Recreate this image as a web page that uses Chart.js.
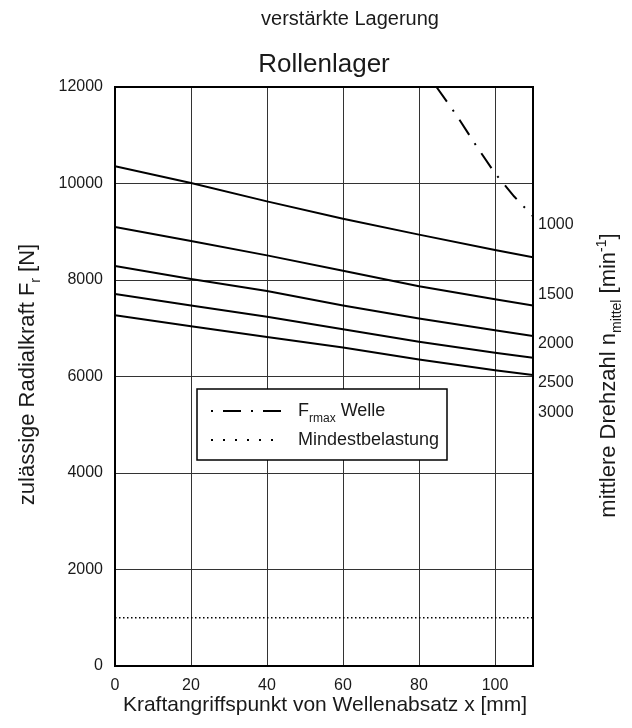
<!DOCTYPE html>
<html>
<head>
<meta charset="utf-8">
<script src="https://cdn.jsdelivr.net/npm/chart.js@4.4.1/dist/chart.umd.min.js"></script>
<style>
  html, body { margin: 0; padding: 0; background: #fff; }
  #wrap { width: 632px; height: 728px; }
</style>
</head>
<body>
<div id="wrap"><canvas id="cnv" width="632" height="728"></canvas></div>
<script>
// force over x for each speed
const xPos = [0, 20, 40, 60, 80, 100, 110];
const force1000 = [10360, 10010, 9630, 9270, 8940, 8620, 8470];
const force1500 = [9100, 8810, 8510, 8190, 7870, 7600, 7470];
const force2000 = [8290, 8020, 7770, 7470, 7200, 6960, 6840];
const force2500 = [7710, 7470, 7240, 6980, 6720, 6490, 6390];
const force3000 = [7270, 7040, 6820, 6600, 6350, 6130, 6030];

// shaft limit
const fmaxX = [84.6, 90, 95, 100, 105, 110];
const fmaxY = [12000, 11400, 10790, 10210, 9735, 9320];

// minimum load
const minLoadX = [0, 110];
const minLoadY = [1000, 1000];

// speed labels on the right side and the force value they sit at
const rpmLabels = ['1000', '1500', '2000', '2500', '3000'];
const rpmLabelAt = [9140, 7690, 6690, 5880, 5260];

const xTicksStep = 20;
const yTicksStep = 2000;

const fontFamily = '"Liberation Sans", Arial, Helvetica, sans-serif';
const textColor = '#1a1a1a';

function zip(xs, ys) {
  return xs.map((x, i) => ({ x: x, y: ys[i] }));
}

function lineSet(label, xs, ys, dash, width) {
  return {
    label: label,
    data: zip(xs, ys),
    borderColor: '#000',
    borderWidth: width || 2,
    borderDash: dash || [],
    pointRadius: 0,
    fill: false,
    tension: 0
  };
}

function richWidth(ctx, parts) {
  let w = 0;
  parts.forEach(p => {
    ctx.font = p.size + 'px ' + fontFamily;
    w += ctx.measureText(p.text).width;
  });
  return w;
}

// draws text made of pieces (sub/superscripts), centred on x unless align left
function drawRich(ctx, parts, x, y, angle, align) {
  ctx.save();
  ctx.translate(x, y);
  ctx.rotate(angle || 0);
  const total = richWidth(ctx, parts);
  let cx = align === 'left' ? 0 : -total / 2;
  ctx.textAlign = 'left';
  ctx.textBaseline = 'alphabetic';
  ctx.fillStyle = textColor;
  parts.forEach(p => {
    ctx.font = p.size + 'px ' + fontFamily;
    ctx.fillText(p.text, cx, p.dy || 0);
    cx += ctx.measureText(p.text).width;
  });
  ctx.restore();
}

const legendItems = [
  { dash: [2, 10, 18, 10], parts: [{ text: 'F', size: 18 }, { text: 'rmax', size: 12, dy: 6 }, { text: ' Welle', size: 18 }] },
  { dash: [2, 10], parts: [{ text: 'Mindestbelastung', size: 18 }] }
];

const decorPlugin = {
  id: 'decor',
  afterDatasetsDraw(chart) {
    const ctx = chart.ctx;
    const a = chart.chartArea;
    ctx.save();
    ctx.strokeStyle = '#000';
    ctx.lineWidth = 2;
    ctx.strokeRect(a.left, a.top, a.right - a.left, a.bottom - a.top);
    ctx.restore();
  },
  afterDraw(chart) {
    const ctx = chart.ctx;
    const a = chart.chartArea;
    const midX = (a.left + a.right) / 2;
    const midY = (a.top + a.bottom) / 2;

    drawRich(ctx, [{ text: 'verstärkte Lagerung', size: 20 }], 350, 25);
    drawRich(ctx, [{ text: 'Rollenlager', size: 26 }], midX, 72);
    drawRich(ctx, [{ text: 'Kraftangriffspunkt von Wellenabsatz x [mm]', size: 21 }], midX + 1, 711);
    drawRich(ctx, [
      { text: 'zulässige Radialkraft F', size: 22 },
      { text: 'r', size: 14, dy: 6 },
      { text: ' [N]', size: 22 }
    ], 34, midY - 2, -Math.PI / 2);
    drawRich(ctx, [
      { text: 'mittlere Drehzahl n', size: 22 },
      { text: 'mittel', size: 14, dy: 6 },
      { text: ' [min', size: 22 },
      { text: '-1', size: 14, dy: -9 },
      { text: ']', size: 22 }
    ], 615, midY - 1, -Math.PI / 2);

    // legend box
    const bx = 197, by = 389, bw = 250, bh = 71;
    ctx.save();
    ctx.fillStyle = '#fff';
    ctx.fillRect(bx, by, bw, bh);
    ctx.strokeStyle = '#000';
    ctx.lineWidth = 1.5;
    ctx.strokeRect(bx, by, bw, bh);
    ctx.lineWidth = 2;
    legendItems.forEach((item, i) => {
      const ly = by + 22 + i * 29;
      ctx.setLineDash(item.dash);
      ctx.beginPath();
      ctx.moveTo(bx + 14, ly);
      ctx.lineTo(bx + 84, ly);
      ctx.stroke();
      drawRich(ctx, item.parts, bx + 101, ly + 5, 0, 'left');
    });
    ctx.restore();
  }
};

const tickFont = { family: fontFamily, size: 16 };

const ctx = document.getElementById('cnv').getContext('2d');
const chart = new Chart(ctx, {
  type: 'line',
  data: {
    datasets: [
      lineSet('1000', xPos, force1000),
      lineSet('1500', xPos, force1500),
      lineSet('2000', xPos, force2000),
      lineSet('2500', xPos, force2500),
      lineSet('3000', xPos, force3000),
      lineSet('Frmax Welle', fmaxX, fmaxY, [18, 10, 2, 10]),
      lineSet('Mindestbelastung', minLoadX, minLoadY, [1.5, 2.5], 1.5)
    ]
  },
  options: {
    responsive: false,
    animation: false,
    devicePixelRatio: 1,
    layout: { padding: { top: 87, left: 0, right: 0, bottom: 0 } },
    plugins: {
      legend: { display: false },
      title: { display: false },
      tooltip: { enabled: false }
    },
    scales: {
      x: {
        type: 'linear',
        min: 0,
        max: 110,
        ticks: { stepSize: xTicksStep, includeBounds: false, padding: 10, font: tickFont, color: textColor,
          callback: v => String(v) },
        grid: { color: '#333', lineWidth: 1, drawTicks: false },
        border: { display: false },
        afterFit: s => { s.height = 62; }
      },
      y: {
        type: 'linear',
        min: 0,
        max: 12000,
        ticks: { stepSize: yTicksStep, padding: 12, font: tickFont, color: textColor,
          callback: v => String(v) },
        grid: { color: '#333', lineWidth: 1, drawTicks: false },
        border: { display: false },
        afterFit: s => { s.width = 115; }
      },
      y2: {
        type: 'linear',
        position: 'right',
        min: 0,
        max: 12000,
        afterBuildTicks: s => { s.ticks = rpmLabelAt.map(v => ({ value: v })); },
        ticks: {
          autoSkip: false,
          padding: 5,
          font: tickFont,
          color: textColor,
          callback: (v, i) => rpmLabels[i]
        },
        grid: { display: false, drawTicks: false },
        border: { display: false },
        afterFit: s => { s.width = 99; }
      }
    }
  },
  plugins: [decorPlugin]
});
</script>
</body>
</html>
